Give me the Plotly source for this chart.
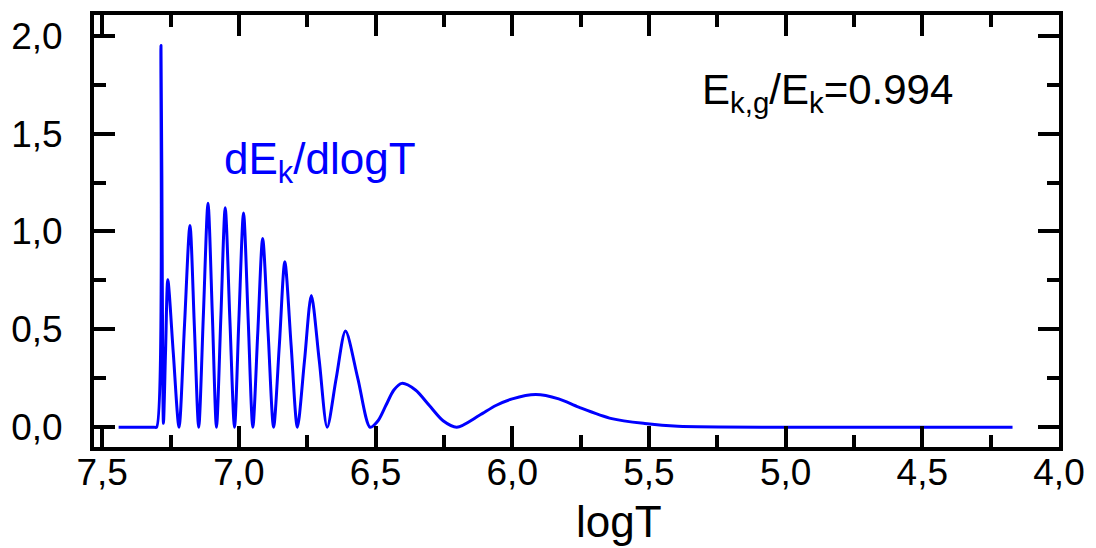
import plotly.graph_objects as go

# Data
log_t = [7.440, 7.310, 7.301, 7.285, 7.280, 7.276, 7.268, 7.260, 7.240, 7.219,
         7.199, 7.179, 7.163, 7.147, 7.130, 7.113, 7.097, 7.082, 7.066, 7.050,
         7.033, 7.016, 7.000, 6.983, 6.966, 6.949, 6.931, 6.913, 6.893, 6.873,
         6.852, 6.832, 6.809, 6.786, 6.760, 6.735, 6.706, 6.677, 6.644, 6.610,
         6.565, 6.520, 6.491, 6.462, 6.433, 6.404, 6.354, 6.304, 6.253, 6.203,
         6.120, 6.060, 6.000, 5.914, 5.830, 5.757, 5.636, 5.515, 5.394, 5.000,
         4.170]
de_dlogt = [0.000, 0.000, 0.000, 1.950, 0.700, 0.020, 0.400, 0.754, 0.380, 0.000,
            0.520, 1.031, 0.520, 0.000, 0.570, 1.144, 0.570, 0.000, 0.560, 1.121,
            0.550, 0.000, 0.550, 1.094, 0.550, 0.000, 0.480, 0.964, 0.480, 0.000,
            0.420, 0.845, 0.420, 0.000, 0.340, 0.673, 0.340, 0.000, 0.250, 0.491,
            0.250, 0.000, 0.033, 0.112, 0.190, 0.224, 0.190, 0.112, 0.033, 0.000,
            0.061, 0.111, 0.145, 0.167, 0.145, 0.103, 0.044, 0.019, 0.005, 0.000,
            0.000]

x_ticks = [7.5, 7.0, 6.5, 6.0, 5.5, 5.0, 4.5, 4.0]
x_tick_text = ["7,5", "7,0", "6,5", "6,0", "5,5", "5,0", "4,5", "4,0"]
y_ticks = [0.0, 0.5, 1.0, 1.5, 2.0]
y_tick_text = ["0,0", "0,5", "1,0", "1,5", "2,0"]

FONT = "Liberation Sans, Arial, sans-serif"
W, H = 1096, 548
L, R, T, B = 92, 1064, 11, 447


def px(xp):
    return (xp - L) / (R - L)


def py(yp):
    return (B - yp) / (B - T)


fig = go.Figure()
fig.add_trace(go.Scatter(
    x=log_t, y=de_dlogt, mode="lines",
    line=dict(color="#0000FF", width=3, shape="spline", smoothing=0.8),
    showlegend=False, hoverinfo="skip"))

axis_common = dict(
    showline=True, linecolor="black", linewidth=4, mirror="ticks",
    ticks="inside", ticklen=21, tickwidth=4, tickcolor="black",
    showgrid=False, zeroline=False,
    tickfont=dict(family=FONT, size=37, color="black"),
    minor=dict(ticks="inside", ticklen=12, tickwidth=4, tickcolor="black", dtick=0.25, showgrid=False),
)

fig.update_xaxes(range=[7.53, 4.0], tickvals=x_ticks, ticktext=x_tick_text,
                 ticklabelstandoff=-10, **axis_common)
fig.update_yaxes(range=[-0.101, 2.106], tickvals=y_ticks, ticktext=y_tick_text,
                 ticklabelstandoff=20, **axis_common)

fig.add_annotation(xref="paper", yref="paper", x=px(702), y=py(89), xanchor="left", yanchor="middle",
                   text="E<sub>k,g</sub>/E<sub>k</sub>=0.994", showarrow=False,
                   font=dict(family=FONT, size=42, color="black"))
fig.add_annotation(xref="paper", yref="paper", x=px(221), y=py(159), xanchor="left", yanchor="middle",
                   text="dE<sub>k</sub>/dlogT", showarrow=False,
                   font=dict(family=FONT, size=44, color="#0000FF"))
fig.add_annotation(xref="paper", yref="paper", x=px(621), y=py(522), xanchor="center", yanchor="middle",
                   text="logT", showarrow=False,
                   font=dict(family=FONT, size=44, color="black"))

fig.update_layout(
    width=W, height=H,
    margin=dict(l=L, r=W - R, t=T, b=H - B),
    plot_bgcolor="white", paper_bgcolor="white",
    font=dict(family=FONT),
)

fig.write_html("out.html")
